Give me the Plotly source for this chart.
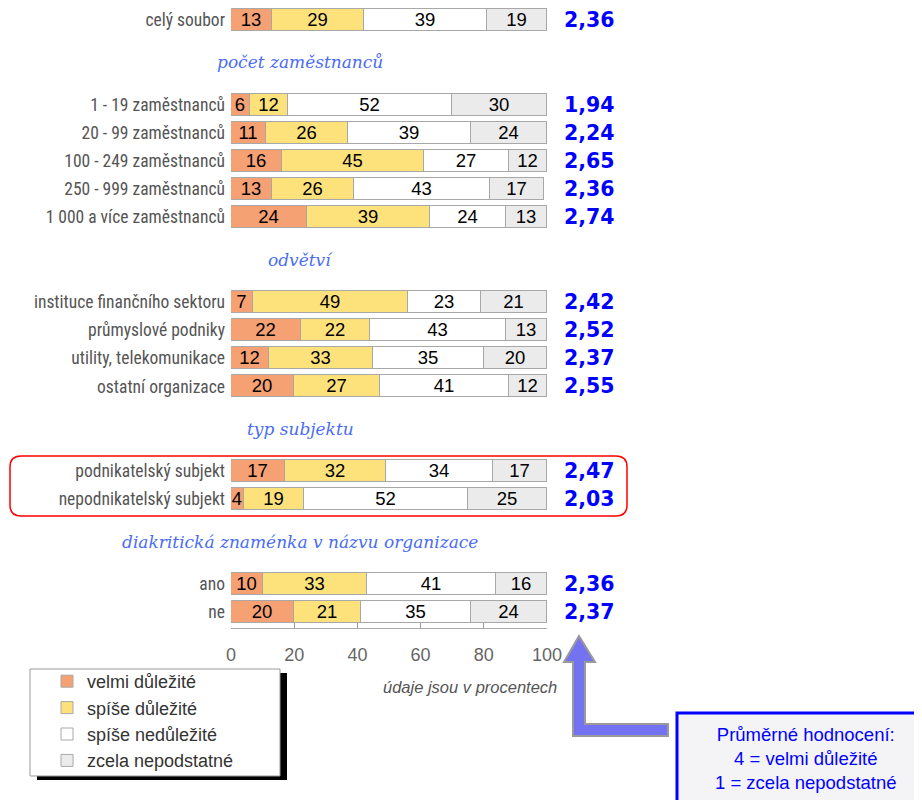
import plotly.graph_objects as go

# ---------------- data ----------------
series_names = ["velmi důležité", "spíše důležité", "spíše nedůležité", "zcela nepodstatné"]
series_colors = ["#f5a173", "#fde27c", "#ffffff", "#ebebeb"]

group_headers = [None, "počet zaměstnanců", "odvětví", "typ subjektu",
                 "diakritická znaménka v názvu organizace"]
group_categories = [
    ["celý soubor"],
    ["1 - 19 zaměstnanců", "20 - 99 zaměstnanců", "100 - 249 zaměstnanců",
     "250 - 999 zaměstnanců", "1 000 a více zaměstnanců"],
    ["instituce finančního sektoru", "průmyslové podniky",
     "utility, telekomunikace", "ostatní organizace"],
    ["podnikatelský subjekt", "nepodnikatelský subjekt"],
    ["ano", "ne"],
]
velmi = [13, 6, 11, 16, 13, 24, 7, 22, 12, 20, 17, 4, 10, 20]
spise_dul = [29, 12, 26, 45, 26, 39, 49, 22, 33, 27, 32, 19, 33, 21]
spise_nedul = [39, 52, 39, 27, 43, 24, 23, 43, 35, 41, 34, 52, 41, 35]
zcela = [19, 30, 24, 12, 17, 13, 21, 13, 20, 12, 17, 25, 16, 24]
averages = ["2,36", "1,94", "2,24", "2,65", "2,36", "2,74", "2,42", "2,52",
            "2,37", "2,55", "2,47", "2,03", "2,36", "2,37"]
x_ticks = [0, 20, 40, 60, 80, 100]

# ---------------- layout of rows (slots) ----------------
categories, cat_pos, header_pos = [], [], []
cur = -1.0
for hdr, cats in zip(group_headers, group_categories):
    if hdr is None:
        start = cur + 1
    else:
        header_pos.append((hdr, cur + 1.5))
        start = cur + 3
    for k, c in enumerate(cats):
        categories.append(c)
        cat_pos.append(start + k)
    cur = start + len(cats) - 1

OFF = 8                     # page body margin
W, H = 922 - OFF, 800 - OFF
def px(x):
    return (x - OFF) / W
def py(y):
    return 1 - (y - OFF) / H

fig = go.Figure()
values = [velmi, spise_dul, spise_nedul, zcela]
for name, col, vals in zip(series_names, series_colors, values):
    fig.add_trace(go.Bar(
        y=cat_pos, x=vals, orientation="h", name=name,
        marker=dict(color=col, line=dict(color="#a8a8a8", width=1)),
        width=0.78, text=[str(v) for v in vals], textposition="inside",
        insidetextanchor="middle", textangle=0,
        textfont=dict(family="Liberation Sans, Arial, sans-serif", size=18.5, color="#000"),
        hoverinfo="skip", cliponaxis=False,
    ))

annotations = []
for pos, avg in zip(cat_pos, averages):
    annotations.append(dict(
        x=px(562), xref="paper", y=pos, yref="y", text=f"<b>{avg}</b>",
        xanchor="left", yanchor="middle", showarrow=False,
        font=dict(family="DejaVu Sans, Verdana, sans-serif", size=20.5, color="#0000ff")))
for hdr, pos in header_pos:
    annotations.append(dict(
        x=px(300), xref="paper", y=pos, yref="y", text=f"<i>{hdr}</i>",
        xanchor="center", yanchor="middle", showarrow=False,
        font=dict(family="DejaVu Serif, Georgia, serif", size=17, color="#4a6cf5")))
annotations.append(dict(
    x=px(559), xref="paper", y=py(687), yref="paper", text="<i>údaje jsou v procentech</i>",
    xanchor="right", yanchor="middle", showarrow=False,
    font=dict(family="Liberation Sans, Arial, sans-serif", size=16.5, color="#555")))
annotations.append(dict(
    x=px(806), xref="paper", y=py(758), yref="paper",
    text="Průměrné hodnocení:<br>4 = velmi důležité<br>1 = zcela nepodstatné",
    xanchor="center", yanchor="middle", showarrow=False, align="center",
    font=dict(family="Liberation Sans, Arial, sans-serif", size=18.5, color="#0000ff")))

def path_from(points):
    return "M " + " L ".join(f"{px(x):.5f},{py(y):.5f}" for x, y in points) + " Z"

def rounded_rect(x0, y0, x1, y1, r):
    pts = [
        f"M {px(x0 + r):.5f},{py(y0):.5f}",
        f"L {px(x1 - r):.5f},{py(y0):.5f}",
        f"Q {px(x1):.5f},{py(y0):.5f} {px(x1):.5f},{py(y0 + r):.5f}",
        f"L {px(x1):.5f},{py(y1 - r):.5f}",
        f"Q {px(x1):.5f},{py(y1):.5f} {px(x1 - r):.5f},{py(y1):.5f}",
        f"L {px(x0 + r):.5f},{py(y1):.5f}",
        f"Q {px(x0):.5f},{py(y1):.5f} {px(x0):.5f},{py(y1 - r):.5f}",
        f"L {px(x0):.5f},{py(y0 + r):.5f}",
        f"Q {px(x0):.5f},{py(y0):.5f} {px(x0 + r):.5f},{py(y0):.5f} Z",
    ]
    return " ".join(pts)

shapes = [
    dict(type="path", xref="paper", yref="paper", path=rounded_rect(10, 456, 627, 516, 11),
         line=dict(color="#ff0000", width=1.5), layer="below"),
    dict(type="rect", xref="paper", yref="paper", x0=px(37), x1=px(287), y0=py(673), y1=py(780),
         fillcolor="#000", line=dict(width=0), layer="below"),
    dict(type="rect", xref="paper", yref="paper", x0=px(30), x1=px(280), y0=py(669), y1=py(776),
         fillcolor="#fff", line=dict(color="#999", width=1), layer="below"),
    dict(type="rect", xref="paper", yref="paper", x0=px(677), x1=px(930), y0=py(713), y1=py(810),
         fillcolor="#f4f4f6", line=dict(color="#0000ff", width=3), layer="below"),
    dict(type="path", xref="paper", yref="paper",
         path=path_from([(579, 636), (595, 662), (585, 662), (585, 724), (668, 724),
                         (668, 736), (573, 736), (573, 662), (564, 662)]),
         fillcolor="#7373f2", line=dict(color="#9a9a9a", width=2)),
]

ROW = 28.19
y_top = -(20 - OFF) / ROW
y_bot = (628 - 20) / ROW

fig.update_layout(
    width=W, height=H, margin=dict(l=0, r=0, t=0, b=0, autoexpand=False),
    paper_bgcolor="#fff", plot_bgcolor="rgba(0,0,0,0)",
    barmode="stack", bargap=0,
    uniformtext=dict(mode="show", minsize=18.5),
    xaxis=dict(domain=[px(231), px(547)], range=[0, 100], tickvals=x_ticks,
               ticks="inside", ticklen=5, tickcolor="#999", showline=True,
               linecolor="#aaa", linewidth=1, showgrid=False, zeroline=False,
               tickfont=dict(family="Liberation Sans, Arial, sans-serif", size=18, color="#666"),
               ticklabelstandoff=10, fixedrange=True, automargin=False),
    yaxis=dict(domain=[py(628), 1], range=[y_bot, y_top], tickvals=cat_pos,
               ticktext=categories, showgrid=False, zeroline=False, ticks="",
               tickfont=dict(family="Liberation Sans Narrow, Arial Narrow, Roboto Condensed, sans-serif",
                             size=17.5, color="#555"),
               ticklabelstandoff=5, fixedrange=True, automargin=False),
    showlegend=True,
    legend=dict(x=px(47), y=py(663), xanchor="left", yanchor="top",
                bgcolor="rgba(0,0,0,0)", borderwidth=0, traceorder="normal",
                font=dict(family="Liberation Sans, Arial, sans-serif", size=18, color="#333")),
    annotations=annotations, shapes=shapes,
)

fig.write_html("out.html")
